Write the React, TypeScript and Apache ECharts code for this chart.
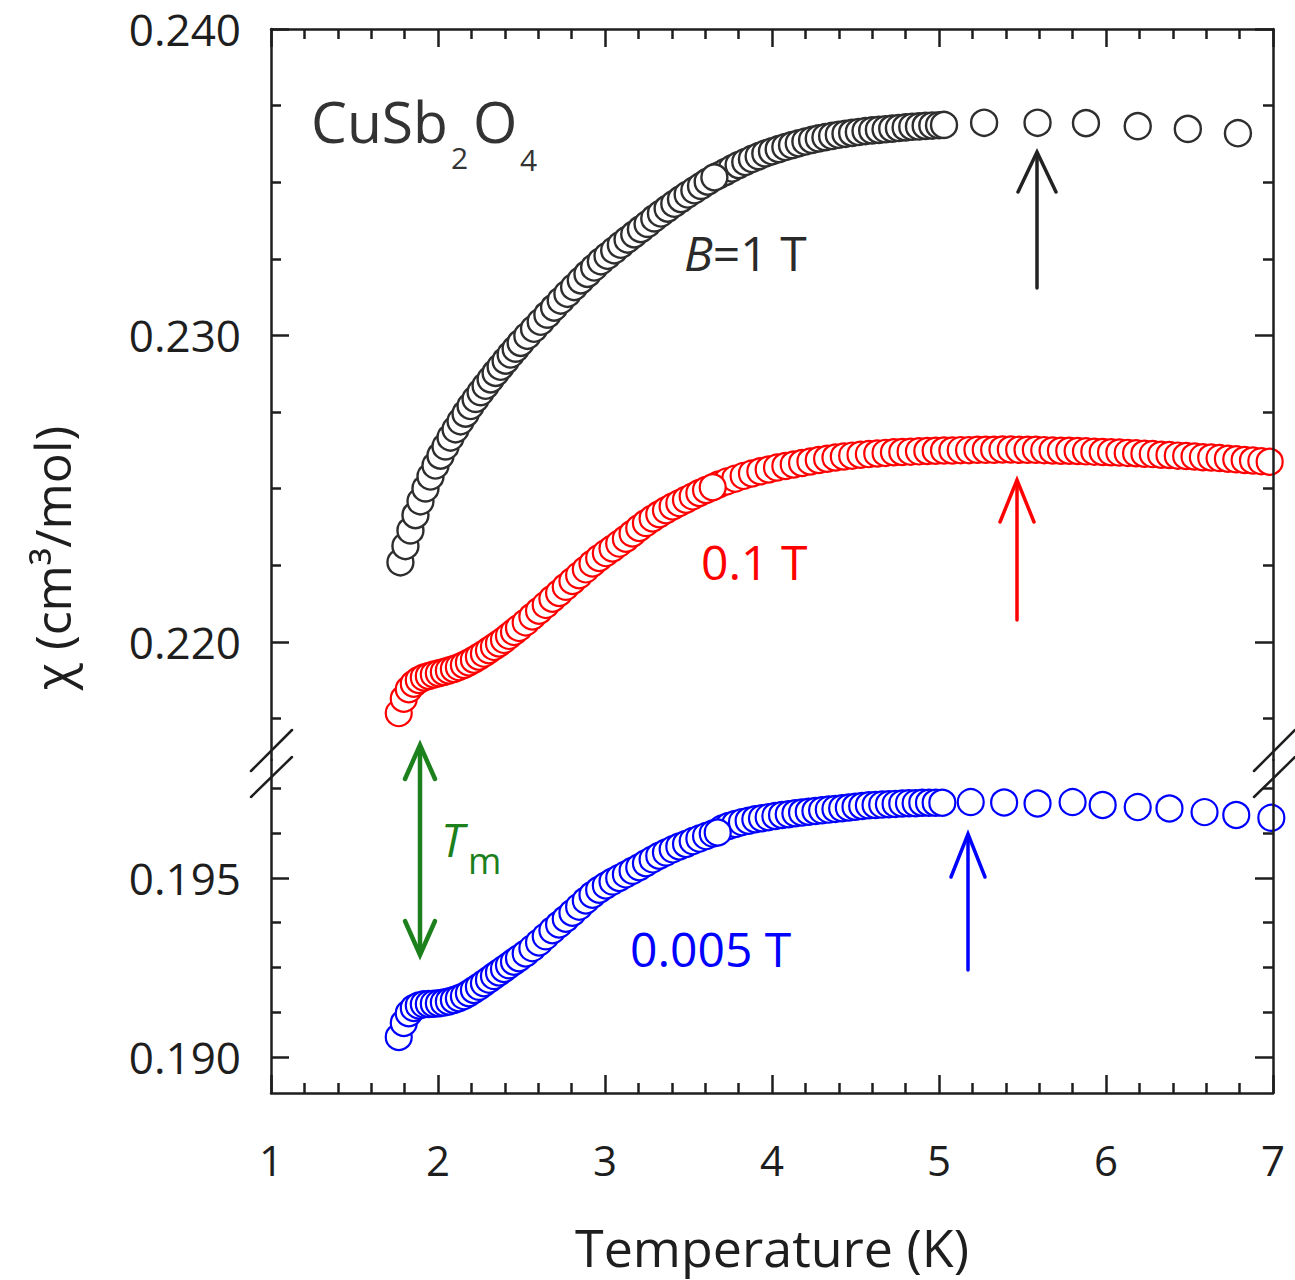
import React, { useEffect, useRef } from "react";
import * as echarts from "echarts";

// ---------- tick values ----------
const xTicks = [1, 2, 3, 4, 5, 6, 7];
const upperMajor = [0.22, 0.23, 0.24];
const upperMinor = [0.2175, 0.2225, 0.225, 0.2275, 0.2325, 0.235, 0.2375];
const lowerMajor = [0.19, 0.195];
const lowerMinor = [0.19125, 0.1925, 0.19375, 0.19625, 0.1975];

// ---------- B = 1 T (black) ----------
const black1TLow: [number, number][] = [
  [1.775, 0.2226], [1.805, 0.22313], [1.835, 0.22364], [1.865, 0.22414], [1.895, 0.22459],
  [1.925, 0.22501], [1.955, 0.2254], [1.985, 0.22576], [2.015, 0.22608], [2.045, 0.22638],
  [2.075, 0.22667], [2.105, 0.22694], [2.135, 0.2272], [2.165, 0.22745], [2.195, 0.2277],
  [2.225, 0.22793], [2.255, 0.22815], [2.285, 0.22836], [2.315, 0.22857], [2.345, 0.22878],
  [2.375, 0.22898], [2.405, 0.22918], [2.435, 0.22938], [2.465, 0.22957], [2.495, 0.22976],
  [2.535, 0.22999], [2.575, 0.23022], [2.615, 0.23045], [2.655, 0.23068], [2.695, 0.23091],
  [2.735, 0.23114], [2.775, 0.23136], [2.815, 0.23158], [2.855, 0.2318], [2.895, 0.23201],
  [2.935, 0.23222], [2.975, 0.23242], [3.015, 0.2326], [3.055, 0.23278], [3.095, 0.23296],
  [3.135, 0.23313], [3.175, 0.2333], [3.215, 0.23347], [3.255, 0.23364], [3.295, 0.23382],
  [3.335, 0.23398], [3.375, 0.23414], [3.415, 0.2343], [3.455, 0.23445], [3.495, 0.2346],
  [3.535, 0.23474], [3.575, 0.23488], [3.615, 0.23502], [3.655, 0.23516],
];
const black1THigh: [number, number][] = [
  [3.68, 0.23522], [3.72, 0.23533], [3.76, 0.23545], [3.8, 0.23556], [3.84, 0.23566],
  [3.88, 0.23576], [3.92, 0.23585], [3.96, 0.23594], [4.0, 0.23601], [4.04, 0.23608],
  [4.08, 0.23615], [4.12, 0.23621], [4.16, 0.23627], [4.2, 0.23633], [4.24, 0.23638],
  [4.28, 0.23643], [4.32, 0.23647], [4.36, 0.23651], [4.4, 0.23655], [4.44, 0.23658],
  [4.48, 0.23661], [4.52, 0.23664], [4.56, 0.23667], [4.6, 0.23669], [4.64, 0.23671],
  [4.68, 0.23673], [4.72, 0.23675], [4.76, 0.23677], [4.8, 0.23679], [4.84, 0.23681],
  [4.88, 0.23682], [4.92, 0.23684], [4.96, 0.23685], [5.0, 0.23686], [5.03, 0.23687],
];
const black1TSparse: [number, number][] = [
  [5.27, 0.23694], [5.59, 0.23694], [5.88, 0.23693], [6.19, 0.23683], [6.49, 0.23674], [6.79, 0.2366],
];

// ---------- B = 0.1 T (red) ----------
const red01TLow: [number, number][] = [
  [1.765, 0.21768], [1.795, 0.21815], [1.825, 0.21846], [1.855, 0.21864], [1.885, 0.21876],
  [1.915, 0.21884], [1.945, 0.21889], [1.975, 0.21894], [2.005, 0.21898], [2.035, 0.21902],
  [2.065, 0.21907], [2.095, 0.21912], [2.125, 0.21918], [2.155, 0.21925], [2.185, 0.21933],
  [2.215, 0.21942], [2.245, 0.21952], [2.275, 0.21962], [2.305, 0.21973], [2.335, 0.21984],
  [2.365, 0.21995], [2.395, 0.22007], [2.425, 0.2202], [2.455, 0.22033], [2.485, 0.22046],
  [2.525, 0.22064], [2.565, 0.22083], [2.605, 0.22102], [2.645, 0.22121], [2.685, 0.22141],
  [2.725, 0.2216], [2.765, 0.2218], [2.805, 0.22199], [2.845, 0.22218], [2.885, 0.22237],
  [2.925, 0.22256], [2.965, 0.22274], [3.005, 0.2229], [3.045, 0.22305], [3.085, 0.22321],
  [3.125, 0.22337], [3.165, 0.22354], [3.205, 0.22372], [3.245, 0.22388], [3.285, 0.22403],
  [3.325, 0.22417], [3.365, 0.2243], [3.405, 0.22442], [3.445, 0.22453], [3.485, 0.22464],
  [3.525, 0.22475], [3.565, 0.22486], [3.605, 0.22496], [3.645, 0.22505],
];
const red01THigh: [number, number][] = [
  [3.68, 0.22514], [3.73, 0.22524], [3.78, 0.22533], [3.83, 0.22542], [3.88, 0.2255],
  [3.93, 0.22557], [3.98, 0.22563], [4.03, 0.22569], [4.08, 0.22574], [4.13, 0.22579],
  [4.18, 0.22584], [4.23, 0.22589], [4.28, 0.22594], [4.33, 0.22598], [4.38, 0.22602],
  [4.43, 0.22605], [4.48, 0.22608], [4.53, 0.22611], [4.58, 0.22613], [4.63, 0.22615],
  [4.68, 0.22617], [4.73, 0.22619], [4.78, 0.2262], [4.83, 0.22621], [4.88, 0.22622],
  [4.93, 0.22623], [4.98, 0.22624], [5.03, 0.22625], [5.08, 0.22625], [5.13, 0.22626],
  [5.18, 0.22626], [5.23, 0.22627], [5.28, 0.22627], [5.33, 0.22627], [5.38, 0.22628],
  [5.43, 0.22628], [5.48, 0.22627], [5.53, 0.22627], [5.58, 0.22627], [5.63, 0.22626],
  [5.68, 0.22625], [5.73, 0.22624], [5.78, 0.22624], [5.83, 0.22623], [5.88, 0.22622],
  [5.93, 0.22621], [5.98, 0.2262], [6.03, 0.22619], [6.08, 0.22618], [6.13, 0.22617],
  [6.18, 0.22616], [6.23, 0.22614], [6.28, 0.22613], [6.33, 0.22611], [6.38, 0.2261],
  [6.43, 0.22608], [6.48, 0.22607], [6.53, 0.22605], [6.58, 0.22603], [6.63, 0.22602],
  [6.68, 0.226], [6.73, 0.22598], [6.78, 0.22596], [6.83, 0.22594], [6.88, 0.22592],
  [6.93, 0.2259], [6.98, 0.22588],
];

// ---------- B = 0.005 T (blue) ----------
const blue005TLow: [number, number][] = [
  [1.765, 0.19056], [1.795, 0.19095], [1.825, 0.19122], [1.855, 0.19137], [1.885, 0.19144],
  [1.915, 0.19147], [1.945, 0.19148], [1.975, 0.19149], [2.005, 0.1915], [2.035, 0.19152],
  [2.065, 0.19155], [2.095, 0.19159], [2.125, 0.19164], [2.155, 0.1917], [2.185, 0.19178],
  [2.215, 0.19187], [2.245, 0.19196], [2.275, 0.19206], [2.305, 0.19216], [2.335, 0.19226],
  [2.365, 0.19236], [2.395, 0.19246], [2.425, 0.19256], [2.455, 0.19266], [2.485, 0.19276],
  [2.525, 0.19289], [2.565, 0.19304], [2.605, 0.1932], [2.645, 0.19337], [2.685, 0.19354],
  [2.725, 0.1937], [2.765, 0.19386], [2.805, 0.19403], [2.845, 0.1942], [2.885, 0.19437],
  [2.925, 0.19453], [2.965, 0.19467], [3.005, 0.19479], [3.045, 0.1949], [3.085, 0.195],
  [3.125, 0.1951], [3.165, 0.1952], [3.205, 0.1953], [3.245, 0.19541], [3.285, 0.19552],
  [3.325, 0.19562], [3.365, 0.19571], [3.405, 0.1958], [3.445, 0.19588], [3.485, 0.19595],
  [3.525, 0.19603], [3.565, 0.1961], [3.605, 0.19617], [3.645, 0.19624], [3.675, 0.19627],
];
const blue005THigh: [number, number][] = [
  [3.7, 0.19638], [3.74, 0.19645], [3.78, 0.19651], [3.82, 0.19656], [3.86, 0.1966],
  [3.9, 0.19664], [3.94, 0.19667], [3.98, 0.1967], [4.02, 0.19673], [4.06, 0.19676],
  [4.1, 0.19678], [4.14, 0.19681], [4.18, 0.19683], [4.22, 0.19685], [4.26, 0.19687],
  [4.3, 0.19689], [4.34, 0.19691], [4.38, 0.19693], [4.42, 0.19695], [4.46, 0.19697],
  [4.5, 0.19699], [4.54, 0.19701], [4.58, 0.19703], [4.62, 0.19704], [4.66, 0.19705],
  [4.7, 0.19706], [4.74, 0.19707], [4.78, 0.19708], [4.82, 0.19709], [4.86, 0.19709],
  [4.9, 0.1971], [4.94, 0.1971], [4.98, 0.1971], [5.02, 0.1971],
];
const blue005TSparse: [number, number][] = [
  [5.19, 0.19712], [5.39, 0.19711], [5.59, 0.19708], [5.8, 0.19712], [5.98, 0.19704],
  [6.19, 0.19698], [6.38, 0.19694], [6.59, 0.19684], [6.78, 0.19676], [6.99, 0.19668],
];

// ---------- axis ranges ----------
const xRange = [1, 7];
const upperRange = [0.21615, 0.24];
const lowerRange = [0.188994, 0.198296];

const FONT = "'Open Sans', 'DejaVu Sans', sans-serif";
const INK = "#1e1e1e";
const GREEN = "#1c801c";

export default function App() {
  const ref = useRef<HTMLDivElement>(null);

  useEffect(() => {
    const chart = echarts.init(ref.current!, null, { renderer: "svg" });
    const lineStyle = { color: INK, width: 2.5 };

    const xAxisBase = (gridIndex: number, position: string, showLabel: boolean) => ({
      type: "value",
      gridIndex,
      position,
      min: xRange[0],
      max: xRange[1],
      interval: 1,
      axisLine: { show: true, onZero: false, lineStyle },
      axisTick: { show: true, inside: true, length: 18, lineStyle },
      minorTick: { show: true, splitNumber: 5, length: 10, lineStyle },
      splitLine: { show: false },
      minorSplitLine: { show: false },
      axisLabel: {
        show: showLabel,
        customValues: xTicks,
        fontSize: 42,
        fontFamily: FONT,
        color: INK,
        margin: 45,
      },
      z: 5,
    });

    const yAxisBase = (
      gridIndex: number,
      position: string,
      range: number[],
      ticks: number[],
      len: number,
      showLine: boolean,
      labels: number[] | null
    ) => ({
      type: "value",
      gridIndex,
      position,
      min: range[0],
      max: range[1],
      axisLine: { show: showLine, onZero: false, lineStyle },
      axisTick: { show: true, inside: true, length: len, customValues: ticks, lineStyle },
      splitLine: { show: false },
      axisLabel: labels
        ? {
            show: true,
            customValues: labels,
            formatter: (v: number) => v.toFixed(3),
            fontSize: 44,
            fontFamily: FONT,
            color: INK,
            margin: 30,
          }
        : { show: false },
      z: 5,
    });

    const markerStyle = (c: string, w: number) => ({
      type: "scatter",
      symbol: "circle",
      symbolSize: 26,
      clip: false,
      silent: true,
      itemStyle: { color: "#ffffff", borderColor: c, borderWidth: w, opacity: 1 },
      z: 2,
    });

    const txt = (
      x: number,
      y: number,
      text: string,
      size: number,
      fill: string,
      extra: any = {}
    ) => ({
      type: "text",
      x,
      y,
      z: 20,
      style: {
        text,
        fontSize: size,
        fontFamily: FONT,
        fill,
        align: "left",
        verticalAlign: "middle",
        ...extra,
      },
    });

    const ln = (x1: number, y1: number, x2: number, y2: number, stroke: string, w: number) => ({
      type: "line",
      z: 20,
      shape: { x1, y1, x2, y2 },
      style: { stroke, lineWidth: w, lineCap: "round" },
    });

    const head = (pts: number[][], stroke: string, w: number) => ({
      type: "polyline",
      z: 20,
      shape: { points: pts },
      style: { stroke, lineWidth: w, fill: null, lineJoin: "miter", lineCap: "round" },
    });

    const option: any = {
      animation: false,
      backgroundColor: "#ffffff",
      grid: [
        { left: 271, top: 29, width: 1002, height: 731 },
        { left: 271, top: 760, width: 1002, height: 333 },
      ],
      xAxis: [xAxisBase(0, "top", false), xAxisBase(1, "bottom", true)],
      yAxis: [
        yAxisBase(0, "left", upperRange, upperMajor, 18, true, upperMajor),
        yAxisBase(0, "left", upperRange, upperMinor, 10, false, null),
        yAxisBase(0, "right", upperRange, upperMajor, 18, true, null),
        yAxisBase(0, "right", upperRange, upperMinor, 10, false, null),
        yAxisBase(1, "left", lowerRange, lowerMajor, 18, true, lowerMajor),
        yAxisBase(1, "left", lowerRange, lowerMinor, 10, false, null),
        yAxisBase(1, "right", lowerRange, lowerMajor, 18, true, null),
        yAxisBase(1, "right", lowerRange, lowerMinor, 10, false, null),
      ],
      series: [
        {
          ...markerStyle("#2e2e2e", 2.4),
          name: "B = 1 T",
          xAxisIndex: 0,
          yAxisIndex: 0,
          data: [...black1THigh, ...black1TSparse, ...black1TLow],
        },
        {
          ...markerStyle("#ff0000", 2.2),
          name: "0.1 T",
          xAxisIndex: 0,
          yAxisIndex: 0,
          data: [...red01THigh, ...red01TLow],
        },
        {
          ...markerStyle("#0000ff", 2.2),
          name: "0.005 T",
          xAxisIndex: 1,
          yAxisIndex: 4,
          data: [...blue005THigh, ...blue005TSparse, ...blue005TLow],
        },
      ],
      graphic: [
        // axis break marks
        ln(251, 771, 292, 730, INK, 2.5),
        ln(251, 797, 292, 757, INK, 2.5),
        ln(1254, 771, 1295, 730, INK, 2.5),
        ln(1254, 797, 1295, 757, INK, 2.5),
        // axis titles
        {
          type: "text",
          x: 52,
          y: 558,
          rotation: Math.PI / 2,
          z: 20,
          style: {
            text: "χ (cm³/mol)",
            fontSize: 50,
            fontFamily: FONT,
            fill: INK,
            align: "center",
            verticalAlign: "middle",
          },
        },
        {
          type: "text",
          x: 772,
          y: 1246,
          z: 20,
          style: {
            text: "Temperature (K)",
            fontSize: 52,
            fontFamily: FONT,
            fill: INK,
            align: "center",
            verticalAlign: "middle",
          },
        },
        // compound label
        txt(311, 121, "CuSb", 57, "#333333"),
        txt(451, 157, "2", 30, "#333333"),
        txt(473, 121, "O", 57, "#333333"),
        txt(520, 159, "4", 30, "#333333"),
        // field labels
        txt(684, 252, "{i|B}=1 T", 48, "#2a2a2a", {
          rich: { i: { fontStyle: "italic", fontSize: 48, fontFamily: FONT, fill: "#2a2a2a" } },
        }),
        txt(701, 561, "0.1 T", 48, "#ff0000"),
        txt(630, 948, "0.005 T", 48, "#0000ff"),
        txt(441, 839, "T", 46, GREEN, { fontStyle: "italic" }),
        txt(468, 860, "m", 36, GREEN),
        // black arrow
        ln(1037, 153, 1037, 288, "#222222", 3.5),
        head([[1018, 192], [1037, 152], [1056, 192]], "#222222", 3.5),
        // red arrow
        ln(1017, 481, 1017, 620, "#ff0000", 3.5),
        head([[1000, 522], [1017, 480], [1034, 522]], "#ff0000", 3.5),
        // blue arrow
        ln(968, 835, 968, 970, "#0000ff", 3.5),
        head([[951, 877], [968, 834], [985, 877]], "#0000ff", 3.5),
        // green double arrow (T_m)
        ln(420, 746, 420, 954, GREEN, 4.5),
        head([[405, 779], [420, 745], [435, 779]], GREEN, 4.5),
        head([[405, 921], [420, 955], [435, 921]], GREEN, 4.5),
      ],
    };

    chart.setOption(option);
    return () => chart.dispose();
  }, []);

  return (
    <div
      ref={ref}
      style={{ position: "absolute", left: 0, top: 0, width: 1295, height: 1280, background: "#fff" }}
    />
  );
}
